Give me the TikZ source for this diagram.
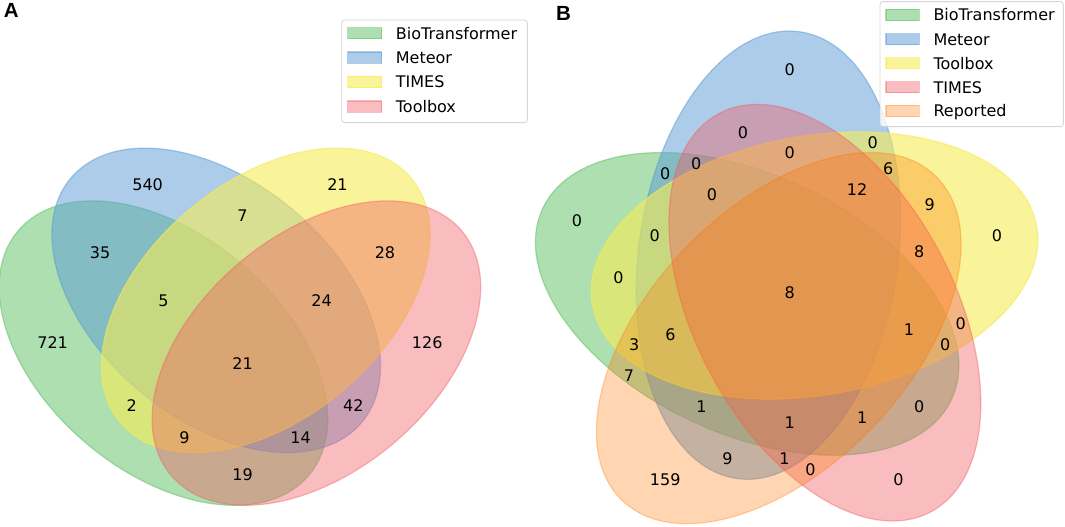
\documentclass[tikz,border=0pt]{standalone}
\usepackage{fontspec}
\setmainfont{DejaVu Sans}
\newfontfamily\panelfont{Liberation Sans}
\definecolor{cgreen}{RGB}{92,192,98}
\definecolor{cblue}{RGB}{90,155,212}
\definecolor{cyellow}{RGB}{246,236,86}
\definecolor{cred}{RGB}{241,90,96}
\definecolor{corange}{RGB}{255,117,0}
\definecolor{leggray}{RGB}{204,204,204}
\tikzset{
  vset/.style 2 args={fill=#1, draw=#1, opacity=#2, line width=1.2pt},
  lbl/.style={inner sep=0pt, font=\fontsize{16}{19}\selectfont},
  legtext/.style={inner sep=0pt, anchor=base west, font=\fontsize{16}{19}\selectfont},
  legbox/.style={draw=leggray, fill=white, fill opacity=0.8, draw opacity=0.8, line width=0.9pt, rounded corners=3pt},
  legpatch/.style 2 args={fill=#1, draw=#1, opacity=#2, line width=1.2pt},
  panel/.style={inner sep=0pt, anchor=base west, font=\panelfont\bfseries\fontsize{20.5}{24}\selectfont}
}
\begin{document}
\begin{tikzpicture}[x=1pt,y=1pt]
\useasboundingbox (0,0) rectangle (1065,527);
\fill[white] (0,0) rectangle (1065,527);

% ---------------- Panel A ----------------
\begin{scope}[shift={(-21.2pt,-37.1pt)}, x=527.5pt, y=527.5pt]
  \draw[vset={cgreen}{0.5}, rotate around={140:(0.35,0.4)}] (0.35,0.4) ellipse [x radius=0.36, y radius=0.225];
  \draw[vset={cblue}{0.5}, rotate around={140:(0.45,0.5)}] (0.45,0.5) ellipse [x radius=0.36, y radius=0.225];
  \draw[vset={cyellow}{0.6}, rotate around={40:(0.544,0.5)}] (0.544,0.5) ellipse [x radius=0.36, y radius=0.225];
  \draw[vset={cred}{0.4}, rotate around={40:(0.64,0.4)}] (0.64,0.4) ellipse [x radius=0.36, y radius=0.225];
  \node[lbl] (a0001) at (0.85,0.42) {126};
  \node[lbl] (a0010) at (0.68,0.72) {21};
  \node[lbl] (a0011) at (0.77,0.59) {28};
  \node[lbl] (a0100) at (0.32,0.72) {540};
  \node[lbl] (a0101) at (0.71,0.30) {42};
  \node[lbl] (a0110) at (0.50,0.66) {7};
  \node[lbl] (a0111) at (0.65,0.50) {24};
  \node[lbl] (a1000) at (0.14,0.42) {721};
  \node[lbl] (a1001) at (0.50,0.17) {19};
  \node[lbl] (a1010) at (0.29,0.30) {2};
  \node[lbl] (a1011) at (0.39,0.24) {9};
  \node[lbl] (a1100) at (0.23,0.59) {35};
  \node[lbl] (a1101) at (0.61,0.24) {14};
  \node[lbl] (a1110) at (0.35,0.50) {5};
  \node[lbl] (a1111) at (0.50,0.38) {21};
\end{scope}

% legend A
\draw[legbox] (341.7,507) rectangle (527.3,404.3);
\draw[legpatch={cgreen}{0.5}] (347.7,488.1) rectangle (381.7,499.3);
\draw[legpatch={cblue}{0.5}] (347.7,463.7) rectangle (381.7,474.9);
\draw[legpatch={cyellow}{0.6}] (347.7,439.4) rectangle (381.7,450.6);
\draw[legpatch={cred}{0.4}] (347.7,414.7) rectangle (381.7,425.9);
\node[legtext] (la1) at (395.7,487.9) {BioTransformer};
\node[legtext] (la2) at (395.7,463.5) {Meteor};
\node[legtext] (la3) at (395.7,439.2) {TIMES};
\node[legtext] (la4) at (395.7,414.5) {Toolbox};

\node[panel] (pA) at (3.6,509) {A};

% ---------------- Panel B ----------------
\begin{scope}[shift={(525.2pt,-9.7pt)}, x=518.5pt, y=518.5pt]
  \draw[vset={cgreen}{0.5}, rotate around={155:(0.428,0.449)}] (0.428,0.449) ellipse [x radius=0.435, y radius=0.25];
  \draw[vset={cblue}{0.5}, rotate around={82:(0.469,0.543)}] (0.469,0.543) ellipse [x radius=0.435, y radius=0.25];
  \draw[vset={cyellow}{0.6}, rotate around={10:(0.558,0.523)}] (0.558,0.523) ellipse [x radius=0.435, y radius=0.25];
  \draw[vset={cred}{0.4}, rotate around={118:(0.578,0.432)}] (0.578,0.432) ellipse [x radius=0.435, y radius=0.25];
  \draw[vset={corange}{0.3}, rotate around={46:(0.489,0.383)}] (0.489,0.383) ellipse [x radius=0.435, y radius=0.25];
  \node[lbl] (b00001) at (0.27,0.11) {159};
  \node[lbl] (b00010) at (0.72,0.11) {0};
  \node[lbl] (b00011) at (0.55,0.13) {0};
  \node[lbl] (b00100) at (0.91,0.58) {0};
  \node[lbl] (b00101) at (0.78,0.64) {9};
  \node[lbl] (b00110) at (0.84,0.41) {0};
  \node[lbl] (b00111) at (0.76,0.55) {8};
  \node[lbl] (b01000) at (0.51,0.90) {0};
  \node[lbl] (b01001) at (0.39,0.15) {9};
  \node[lbl] (b01010) at (0.42,0.78) {0};
  \node[lbl] (b01011) at (0.50,0.15) {1};
  \node[lbl] (b01100) at (0.67,0.76) {0};
  \node[lbl] (b01101) at (0.70,0.71) {6};
  \node[lbl] (b01110) at (0.51,0.74) {0};
  \node[lbl] (b01111) at (0.64,0.67) {12};
  \node[lbl] (b10000) at (0.10,0.61) {0};
  \node[lbl] (b10001) at (0.20,0.31) {7};
  \node[lbl] (b10010) at (0.76,0.25) {0};
  \node[lbl] (b10011) at (0.65,0.23) {1};
  \node[lbl] (b10100) at (0.18,0.50) {0};
  \node[lbl] (b10101) at (0.21,0.37) {3};
  \node[lbl] (b10110) at (0.81,0.37) {0};
  \node[lbl] (b10111) at (0.74,0.40) {1};
  \node[lbl] (b11000) at (0.27,0.70) {0};
  \node[lbl] (b11001) at (0.34,0.25) {1};
  \node[lbl] (b11010) at (0.33,0.72) {0};
  \node[lbl] (b11011) at (0.51,0.22) {1};
  \node[lbl] (b11100) at (0.25,0.58) {0};
  \node[lbl] (b11101) at (0.28,0.39) {6};
  \node[lbl] (b11110) at (0.36,0.66) {0};
  \node[lbl] (b11111) at (0.51,0.47) {8};
\end{scope}

% legend B
\draw[legbox] (880,525.3) rectangle (1063.3,400.3);
\draw[legpatch={cgreen}{0.5}] (886,506.4) rectangle (919.3,517.6);
\draw[legpatch={cblue}{0.5}] (886,482.1) rectangle (919.3,493.3);
\draw[legpatch={cyellow}{0.6}] (886,458.1) rectangle (919.3,469.3);
\draw[legpatch={cred}{0.4}] (886,434.1) rectangle (919.3,445.3);
\draw[legpatch={corange}{0.3}] (886,410.4) rectangle (919.3,421.6);
\node[legtext] (lb1) at (933.3,506.2) {BioTransformer};
\node[legtext] (lb2) at (933.3,481.9) {Meteor};
\node[legtext] (lb3) at (933.3,457.9) {Toolbox};
\node[legtext] (lb4) at (933.3,433.9) {TIMES};
\node[legtext] (lb5) at (933.3,410.2) {Reported};

\node[panel] (pB) at (555.8,506.5) {B};
\end{tikzpicture}
\end{document}
